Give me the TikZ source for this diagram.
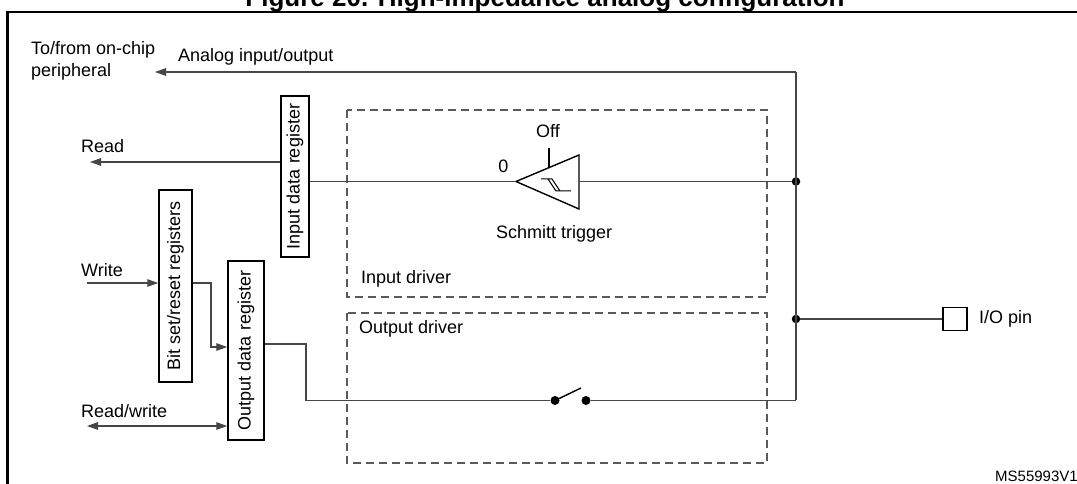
\documentclass[tikz,border=0pt]{standalone}
\usepackage{fontspec}
\setmainfont{Liberation Sans}
\usetikzlibrary{arrows.meta}
\definecolor{wirec}{RGB}{70,70,70}
\definecolor{dashc}{RGB}{90,90,90}
\tikzset{
  wire/.style={draw=wirec,line width=1.3pt},
  tip/.style={-{Triangle[length=11pt,width=7.5pt]}},
  dtip/.style={{Triangle[length=11pt,width=7.5pt]}-{Triangle[length=11pt,width=7.5pt]}},
  regbox/.style={draw=black,line width=1.5pt,inner sep=0pt},
  drvbox/.style={draw=dashc,line width=1.3pt,dash pattern=on 8pt off 5pt},
  lbl/.style={font=\fontsize{18}{22}\selectfont,inner sep=0pt},
  junction/.style={circle,fill=black,inner sep=0pt,minimum size=8.5pt},
}
\begin{document}
\begin{tikzpicture}[x=1pt,y=-1pt]
\useasboundingbox (0,0) rectangle (1077,484);
\fill[white] (0,0) rectangle (1077,484);
% title (clipped at top)
\node[anchor=base,inner sep=0pt,font=\fontsize{26}{30}\selectfont\bfseries] (title) at (545,7) {Figure 20. High-impedance analog configuration};
% outer frame
\draw[line width=2.2pt] (1095,500) -- (7.5,500) -- (7.5,12) -- (1095,12);
% driver boxes
\draw[drvbox] (347,110) rectangle (767,297);
\draw[drvbox] (347,313) rectangle (767,463);
\node[lbl,anchor=base west] (indrv) at (361,283) {Input driver};
\node[lbl,anchor=base west] (outdrv) at (359,333) {Output driver};
% registers
\node[regbox,minimum width=28pt,minimum height=161pt] (idr) at (295,176.5) {\rotatebox{90}{\fontsize{18}{22}\selectfont Input data register}};
\node[regbox,minimum width=33pt,minimum height=192pt] (bsr) at (175.5,286) {\rotatebox{90}{\fontsize{18}{22}\selectfont Bit set/reset registers}};
\node[regbox,minimum width=36pt,minimum height=179pt] (odr) at (246,350.5) {\rotatebox{90}{\fontsize{18}{22}\selectfont Output data register}};
% labels left
\node[lbl,anchor=base west] (tofrom) at (31,55) {To/from on-chip};
\node[lbl,anchor=base west] (periph) at (31,77) {peripheral};
\node[lbl,anchor=base west] (analog) at (178,62) {Analog input/output};
\node[lbl,anchor=base west] (readl) at (81,153) {Read};
\node[lbl,anchor=base west] (writel) at (81,276) {Write};
\node[lbl,anchor=base west] (rwl) at (81,417) {Read/write};
% free ends
\coordinate (anaend) at (155,72);
\coordinate (readend) at (90,162);
\coordinate (writestart) at (87,283);
\coordinate (rwend) at (87,426);
% bus
\coordinate (bustop) at (796,72);
\coordinate (busbot) at (796,400);
\node[junction] (j1) at (796,181.5) {};
\node[junction] (j2) at (796,319) {};
\draw[wire] (bustop) -- (busbot);
\draw[wire,tip] (bustop) -- (anaend);
% I/O pin
\node[regbox,minimum width=24pt,minimum height=23pt] (pin) at (955,319) {};
\node[lbl,anchor=base west] (pinl) at (979,323) {I/O pin};
\draw[wire] (j2) -- (pin.west);
% Schmitt trigger
\coordinate (sttip) at (516,181.5);
\coordinate (stbase) at (579,181.5);
\draw[line width=1.4pt,line join=miter] (sttip) -- (579,155) -- (579,209) -- cycle;
\draw[line width=1pt] (541,179) -- (552,179) (548,179) -- (556,191) (552,179) -- (560,191) (556,191) -- (571,191);
\coordinate (offtop) at (549,148);
\draw[line width=1.4pt] (offtop) -- (549,168);
\node[lbl,anchor=base] (offl) at (548,138) {Off};
\node[lbl,anchor=base] (zerol) at (503.5,172) {0};
\node[lbl,anchor=base west] (stl) at (496,238) {Schmitt trigger};
\draw[wire] (stbase) -- (j1);
\draw[wire] (idr.east |- sttip) -- (sttip);
\draw[wire,tip] (idr.west |- readend) -- (readend);
% write path
\draw[wire,tip] (writestart) -- (bsr.west |- writestart);
\draw[wire,tip] (bsr.east |- writestart) -- (211,283) -- (211,347) -- (odr.west |- 0,347);
\draw[wire,dtip] (rwend) -- (odr.west |- rwend);
% switch
\node[junction,minimum size=9pt] (swa) at (555,400.5) {};
\node[junction,minimum size=9pt] (swb) at (586,400.5) {};
\draw[line width=1.4pt] (swa.center) -- (581,388);
\draw[wire] (odr.east |- 0,344) -- (306,344) -- (306,400.5) -- (swa);
\draw[wire] (swb) -- (busbot |- swb);
% reference code
\node[anchor=base west,inner sep=0pt,font=\fontsize{15}{18}\selectfont] (code) at (995,481) {MS55993V1};
\end{tikzpicture}
\end{document}
